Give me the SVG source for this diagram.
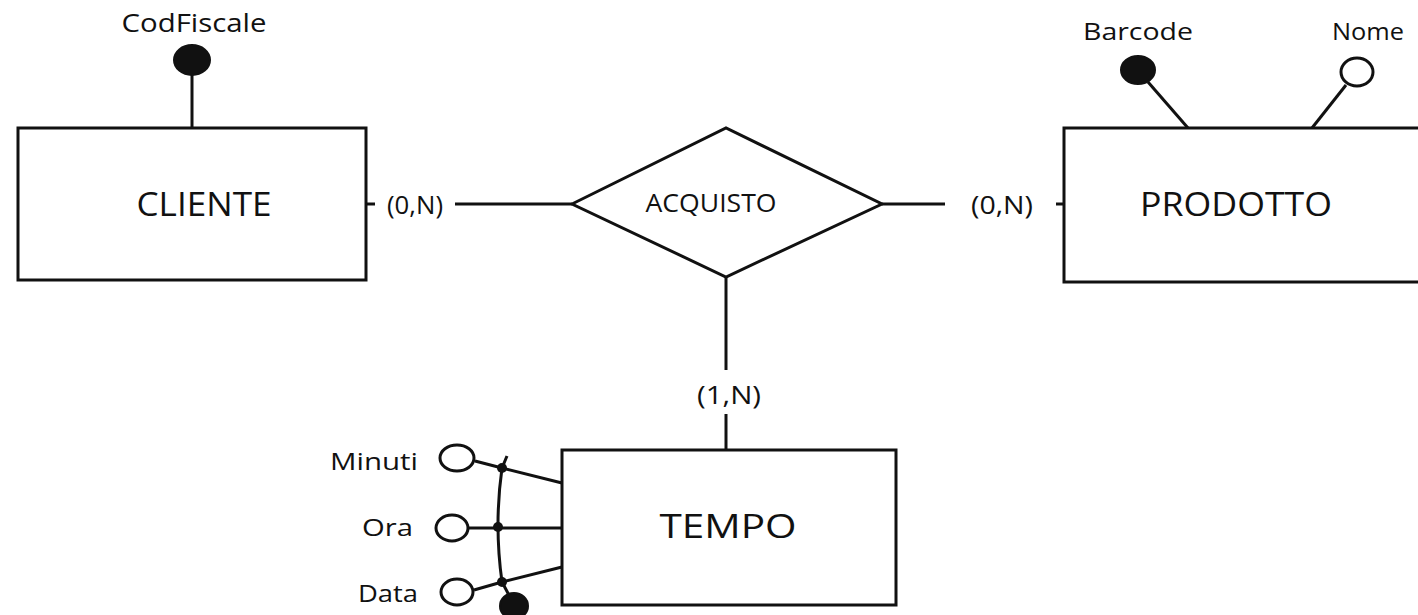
<svg xmlns="http://www.w3.org/2000/svg" width="1418" height="615" viewBox="0 0 1418 615">
<style>
.box{fill:#fff;stroke:#111;stroke-width:3}
.ln{fill:none;stroke:#111;stroke-width:3}
.t{font-family:"Open Sans","Noto Sans",sans-serif;fill:#111;text-anchor:middle}
.big{font-size:33px}
.mid{font-size:25px}
.sm{font-size:23px}
.r{text-anchor:end}
.idf{fill:#111;stroke:#111;stroke-width:2}
.att{fill:#fff;stroke:#111;stroke-width:3}
</style>
<rect width="1418" height="615" fill="#fff"/>
<g id="connectors">
<line class="ln" x1="192" y1="74" x2="192" y2="128"/>
<line class="ln" x1="366" y1="204" x2="375" y2="204"/>
<line class="ln" x1="455" y1="204" x2="572" y2="204"/>
<line class="ln" x1="882" y1="204" x2="945" y2="204"/>
<line class="ln" x1="1056" y1="204" x2="1064" y2="204"/>
<line class="ln" x1="1148" y1="82" x2="1188" y2="128"/>
<line class="ln" x1="1346" y1="85" x2="1312" y2="128"/>
<line class="ln" x1="726" y1="277" x2="726" y2="370"/>
<line class="ln" x1="726" y1="414" x2="726" y2="450"/>
<polyline class="ln" points="475,461 502,468 562,483"/>
<line class="ln" x1="502" y1="468" x2="507" y2="456"/>
<line class="ln" x1="469" y1="528" x2="562" y2="528"/>
<polyline class="ln" points="474,590 502,582 562,567"/>
<line class="ln" x1="502" y1="582" x2="510" y2="597"/>
<path class="ln" d="M502,468 Q494,525 502,582"/>
<circle cx="502" cy="468" r="5" fill="#111"/>
<circle cx="498" cy="527" r="5" fill="#111"/>
<circle cx="502" cy="582" r="5" fill="#111"/>
</g>
<g id="cliente">
<rect class="box" x="18" y="128" width="348" height="152"/>
<text class="t big" x="204" y="216" textLength="135" lengthAdjust="spacingAndGlyphs">CLIENTE</text>
</g>
<g id="codfiscale">
<ellipse class="idf" cx="192" cy="60" rx="18" ry="15"/>
<text class="t mid" x="194" y="32" textLength="145" lengthAdjust="spacingAndGlyphs">CodFiscale</text>
</g>
<g id="acquisto">
<polygon class="box" points="572,204 726,128 882,204 726,277"/>
<text class="t mid" x="711" y="212" textLength="131" lengthAdjust="spacingAndGlyphs">ACQUISTO</text>
</g>
<g id="card-cliente"><text class="t mid" x="415" y="214" textLength="56" lengthAdjust="spacingAndGlyphs">(0,N)</text></g>
<g id="card-prodotto"><text class="t mid" x="1002" y="214" textLength="62" lengthAdjust="spacingAndGlyphs">(0,N)</text></g>
<g id="card-tempo"><text class="t mid" x="729" y="404" textLength="64" lengthAdjust="spacingAndGlyphs">(1,N)</text></g>
<g id="prodotto">
<rect class="box" x="1064" y="128" width="370" height="154"/>
<text class="t big" x="1236" y="216" textLength="192" lengthAdjust="spacingAndGlyphs">PRODOTTO</text>
</g>
<g id="barcode">
<ellipse class="idf" cx="1138" cy="70" rx="17" ry="14"/>
<text class="t sm" x="1138" y="40" textLength="110" lengthAdjust="spacingAndGlyphs">Barcode</text>
</g>
<g id="nome">
<ellipse class="att" cx="1357" cy="72" rx="16" ry="14"/>
<text class="t sm" x="1368" y="40" textLength="72" lengthAdjust="spacingAndGlyphs">Nome</text>
</g>
<g id="tempo">
<rect class="box" x="562" y="450" width="334" height="155"/>
<text class="t big" x="728" y="538" textLength="137" lengthAdjust="spacingAndGlyphs">TEMPO</text>
</g>
<g id="minuti">
<ellipse class="att" cx="457" cy="458" rx="17" ry="13"/>
<text class="t sm r" x="418" y="470" textLength="88" lengthAdjust="spacingAndGlyphs">Minuti</text>
</g>
<g id="ora">
<ellipse class="att" cx="452" cy="528" rx="16" ry="13"/>
<text class="t sm r" x="413" y="536" textLength="51" lengthAdjust="spacingAndGlyphs">Ora</text>
</g>
<g id="data">
<ellipse class="att" cx="457" cy="592" rx="16" ry="13"/>
<text class="t sm r" x="418" y="602" textLength="60" lengthAdjust="spacingAndGlyphs">Data</text>
</g>
<g id="data-id">
<ellipse class="idf" cx="514" cy="606" rx="14" ry="13"/>
</g>
</svg>
